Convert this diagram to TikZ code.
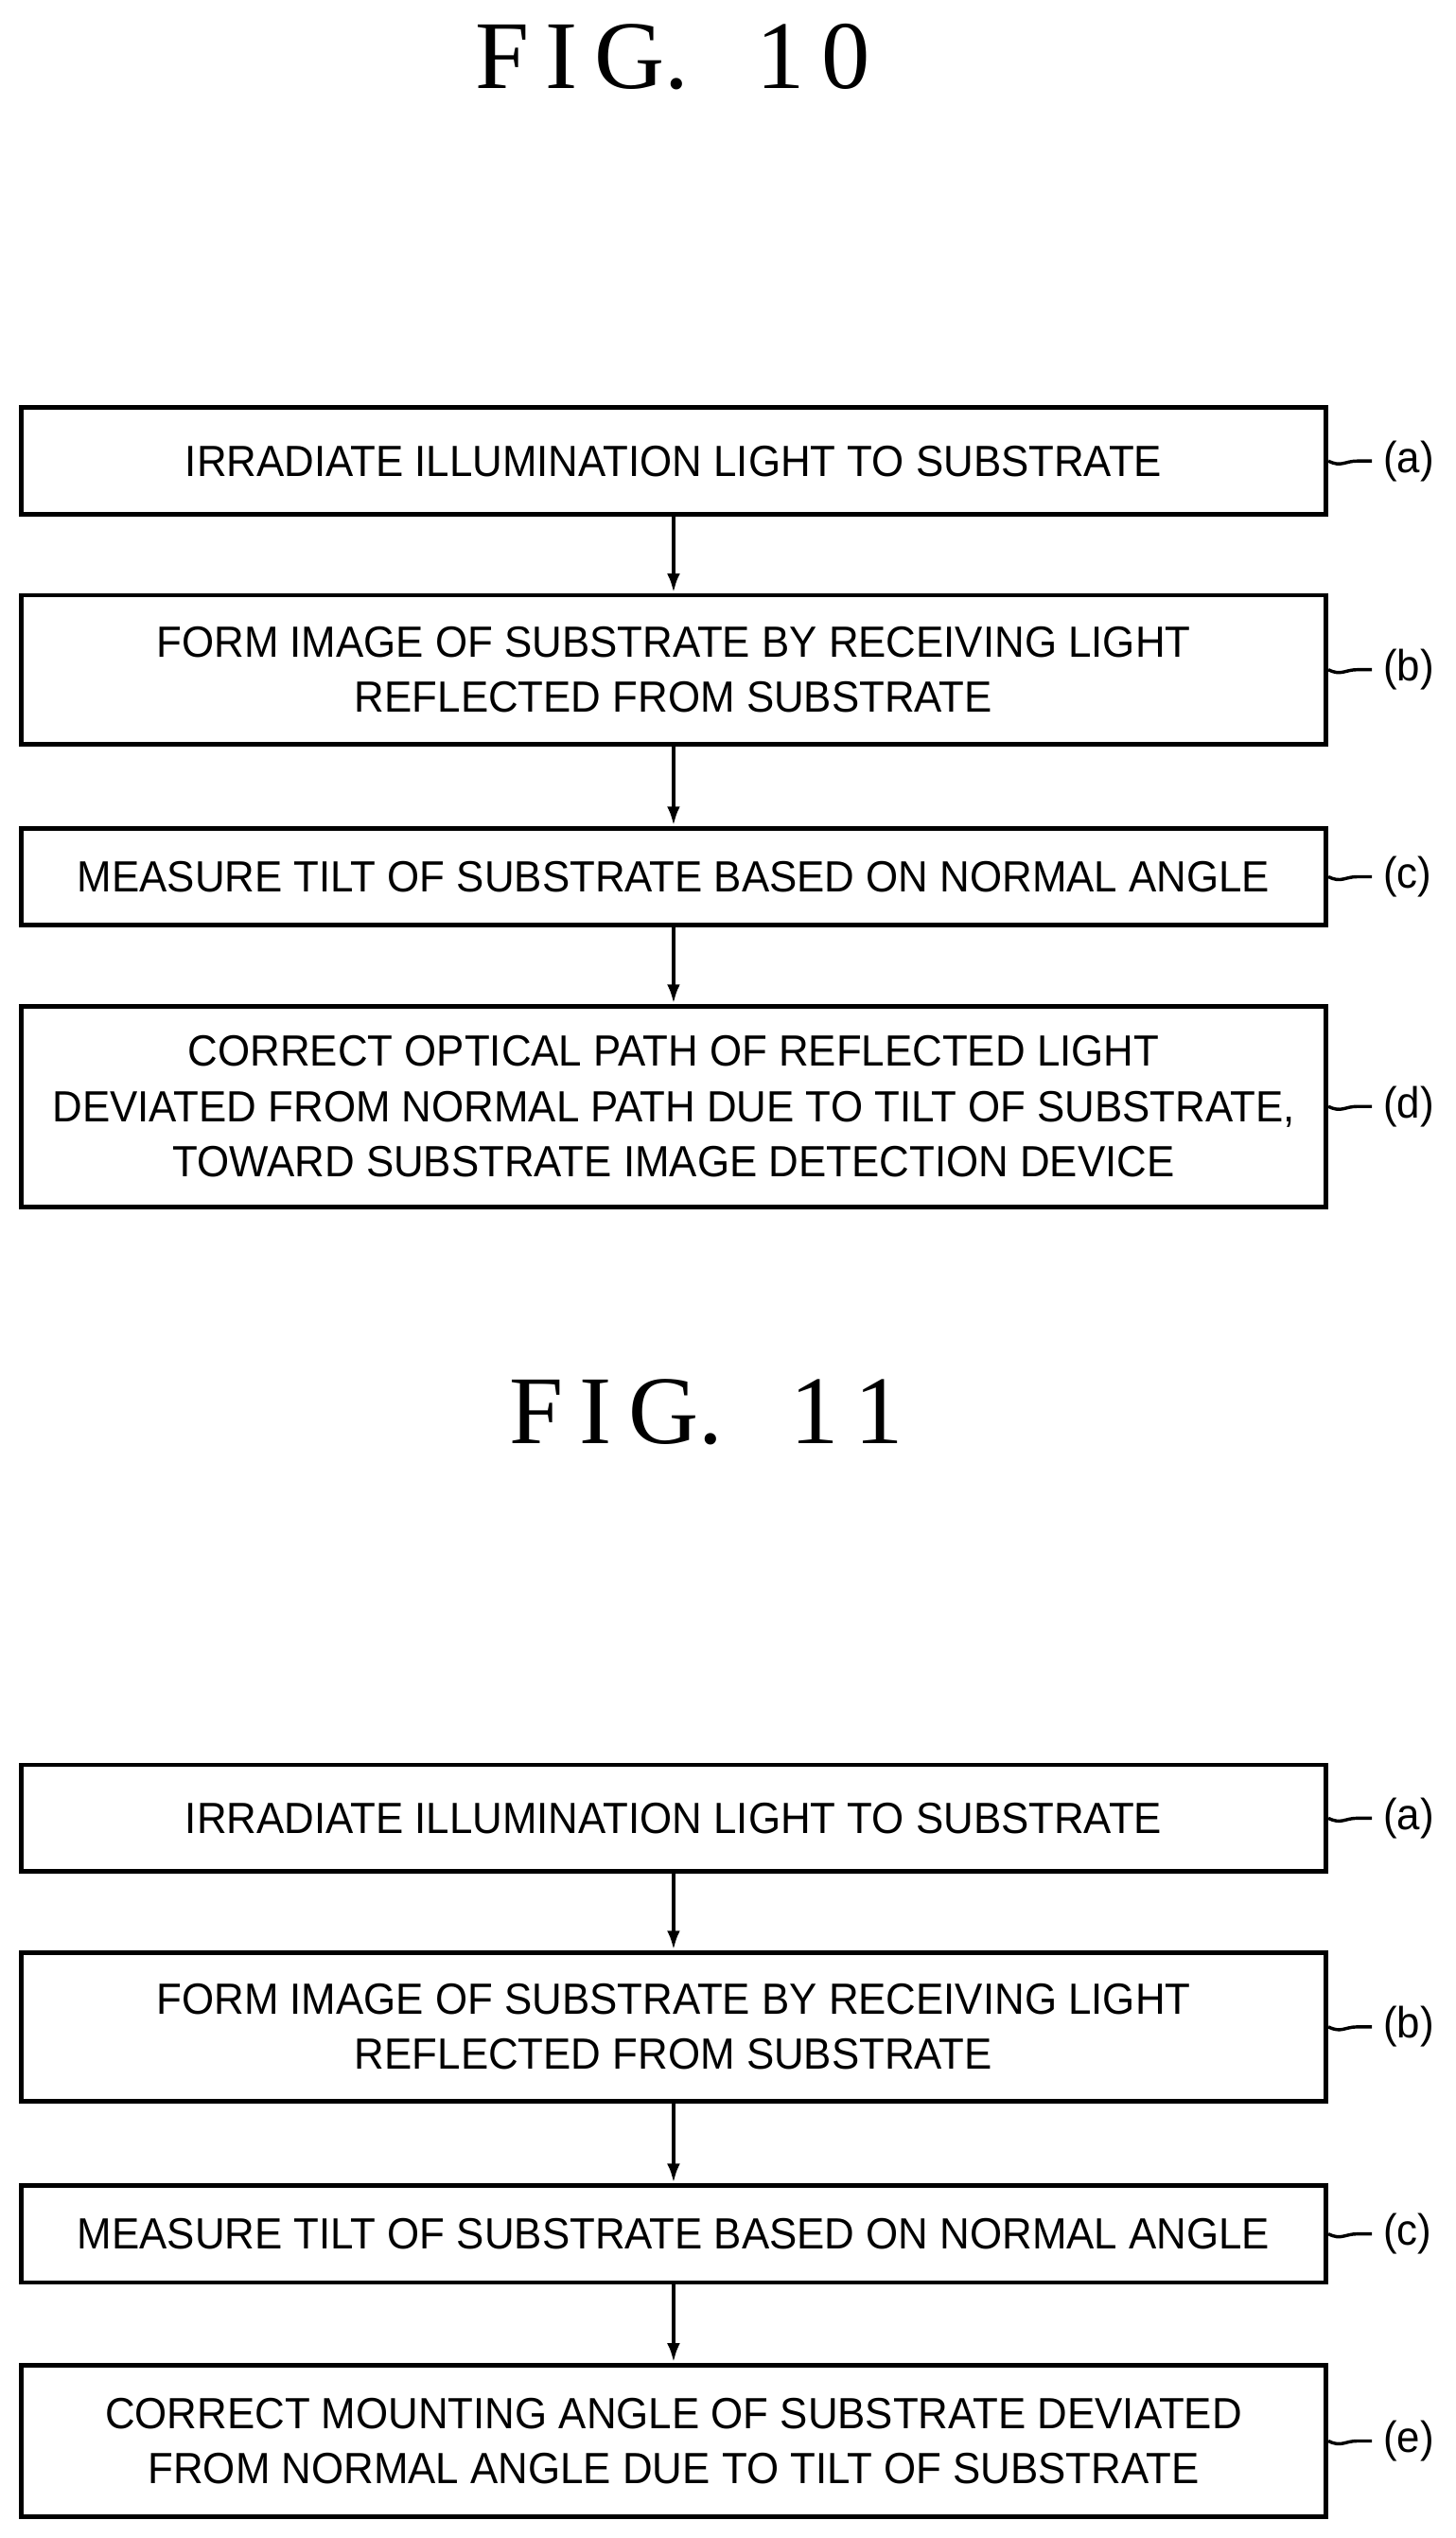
\documentclass[tikz,border=0pt]{standalone}
\usepackage{fontspec}
\setmainfont{Liberation Serif}
\setsansfont[FakeStretch=0.95]{Liberation Sans}
\usetikzlibrary{arrows.meta}
\begin{document}
\begin{tikzpicture}[x=0.5pt,y=-0.5pt,
stepbox/.style={
  draw,
  line width=1.4pt,
  minimum width=403.5pt,
  align=center,
  font=\sffamily\fontsize{13.5}{17}\selectfont,
  inner sep=0pt
  },
steplabel/.style={font=\sffamily\fontsize{13.5}{16}\selectfont, anchor=west},
figtitle/.style={font=\fontsize{30}{31}\selectfont},
>={Latex[length=6pt,width=4pt]}
]
\useasboundingbox (0,0) rectangle (900,1569);
% FIG. 10
\node[figtitle] (t10) at (416,35) {F\,I\,G.\hspace{0.7em}1\,0};
\node[stepbox,minimum height=33pt] (a1) at (416.5,285) {IRRADIATE ILLUMINATION LIGHT TO SUBSTRATE};
\node[stepbox,minimum height=46pt] (b1) at (416.5,414) {FORM IMAGE OF SUBSTRATE BY RECEIVING LIGHT\\REFLECTED FROM SUBSTRATE};
\node[stepbox,minimum height=30pt] (c1) at (416.5,542) {MEASURE TILT OF SUBSTRATE BASED ON NORMAL ANGLE};
\node[stepbox,minimum height=62pt] (d1) at (416.5,684) {CORRECT OPTICAL PATH OF REFLECTED LIGHT\\DEVIATED FROM NORMAL PATH DUE TO TILT OF SUBSTRATE,\\TOWARD SUBSTRATE IMAGE DETECTION DEVICE};
% FIG. 11
\node[figtitle] (t11) at (437,873) {F\,I\,G.\hspace{0.7em}1\,1};
\node[stepbox,minimum height=33pt] (a2) at (416.5,1124) {IRRADIATE ILLUMINATION LIGHT TO SUBSTRATE};
\node[stepbox,minimum height=46pt] (b2) at (416.5,1253) {FORM IMAGE OF SUBSTRATE BY RECEIVING LIGHT\\REFLECTED FROM SUBSTRATE};
\node[stepbox,minimum height=30pt] (c2) at (416.5,1381) {MEASURE TILT OF SUBSTRATE BASED ON NORMAL ANGLE};
\node[stepbox,minimum height=47pt] (e2) at (416.5,1509) {CORRECT MOUNTING ANGLE OF SUBSTRATE DEVIATED\\FROM NORMAL ANGLE DUE TO TILT OF SUBSTRATE};
% arrows
\foreach \from/\to in {a1/b1,b1/c1,c1/d1,a2/b2,b2/c2,c2/e2}
  \draw[->,line width=1.2pt] (\from) -- (\to);
% labels
\foreach \stp/\txt in {a1/a,b1/b,c1/c,d1/d,a2/a,b2/b,c2/c,e2/e}{
  \node[steplabel] (l\stp) at ([xshift=13.5pt]\stp.east) {(\txt)};
  \draw[line width=1pt] (\stp.east) .. controls ([xshift=4pt,yshift=-2pt]\stp.east) and ([xshift=5pt,yshift=0pt]\stp.east) .. ([xshift=9pt]\stp.east) -- (l\stp.west);
}
\end{tikzpicture}
\end{document}
